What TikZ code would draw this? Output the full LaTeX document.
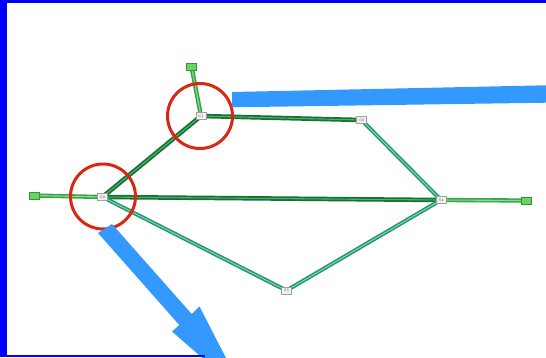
\documentclass[tikz,border=0pt]{standalone}
\usetikzlibrary{backgrounds}
\definecolor{bordblue}{RGB}{0,0,255}
\definecolor{arrblue}{RGB}{51,153,255}
\definecolor{circred}{RGB}{218,38,18}
\definecolor{dkgreen}{RGB}{22,112,52}
\definecolor{dkgreenl}{RGB}{80,175,105}
\definecolor{tealc}{RGB}{35,150,112}
\definecolor{tealcl}{RGB}{130,215,180}
\definecolor{lgreen}{RGB}{55,165,75}
\definecolor{lgreenl}{RGB}{140,220,140}
\definecolor{hostfill}{RGB}{100,215,95}
\definecolor{hostdraw}{RGB}{55,145,55}
\tikzset{
  router/.style={draw=gray!75, fill=gray!12, minimum width=10pt, minimum height=7pt,
    inner sep=0pt, line width=0.7pt, font=\fontsize{3.5}{3.5}\selectfont, text=gray!60!black},
  host/.style={draw=hostdraw, fill=hostfill, minimum width=10pt, minimum height=7pt,
    inner sep=0pt, line width=0.7pt},
  darklink/.style={draw=dkgreen, double=dkgreenl, double distance=1.1pt, line width=1.7pt},
  teallink/.style={draw=tealc, double=tealcl, double distance=1pt, line width=1.5pt},
  greenlink/.style={draw=lgreen, double=lgreenl, double distance=1.1pt, line width=1.6pt},
  redring/.style={draw=circred, line width=3pt},
  blockarrow/.style={fill=arrblue, draw=none},
  frame/.style={fill=bordblue, draw=none}
}
\begin{document}
\begin{tikzpicture}[x=1pt,y=-1pt]
\useasboundingbox (0,0) rectangle (546,357);
\clip (0,0) rectangle (546,357);
% nodes
\node[host] (g1) at (191.5,66.5) {};
\node[host] (g2) at (34,195.5) {};
\node[host] (g3) at (526,200.5) {};
\node[router] (a) at (201,116) {S1};
\node[router] (b) at (102.5,197) {S2};
\node[router] (c) at (361.5,120) {S3};
\node[router] (d) at (441,200) {S4};
\node[router] (e) at (286.5,290.5) {S5};
% links
\begin{pgfonlayer}{background}
\draw[greenlink] (g1.center) -- (a.center);
\draw[greenlink] (g2.center) -- (b.center);
\draw[greenlink] (d.center) -- (g3.center);
\draw[darklink] (a.center) -- (b.center);
\draw[darklink] (a.center) -- (c.center);
\draw[darklink] (b.center) -- (d.center);
\draw[teallink] (b.center) -- (e.center);
\draw[teallink] (c.center) -- (d.center);
\draw[teallink] (e.center) -- (d.center);
\end{pgfonlayer}
% red rings
\draw[redring] (a.center) ++(-1,0) circle (32.5);
\draw[redring] (b.center) ++(0.5,-0.5) circle (32.5);
% blue arrows
\fill[blockarrow] (232,92) -- (232,107.3) -- (560,102.5) -- (560,85) -- cycle;
\fill[blockarrow] (98,233) -- (179.3,325) -- (172,331.5) -- (245,395) -- (199.5,306.5) -- (191.7,314) -- (112,224) -- cycle;
% frame
\fill[frame] (0,0) rectangle (7,357);
\fill[frame] (0,0) rectangle (546,3);
\fill[frame] (0,355) rectangle (205,357);
\end{tikzpicture}
\end{document}
